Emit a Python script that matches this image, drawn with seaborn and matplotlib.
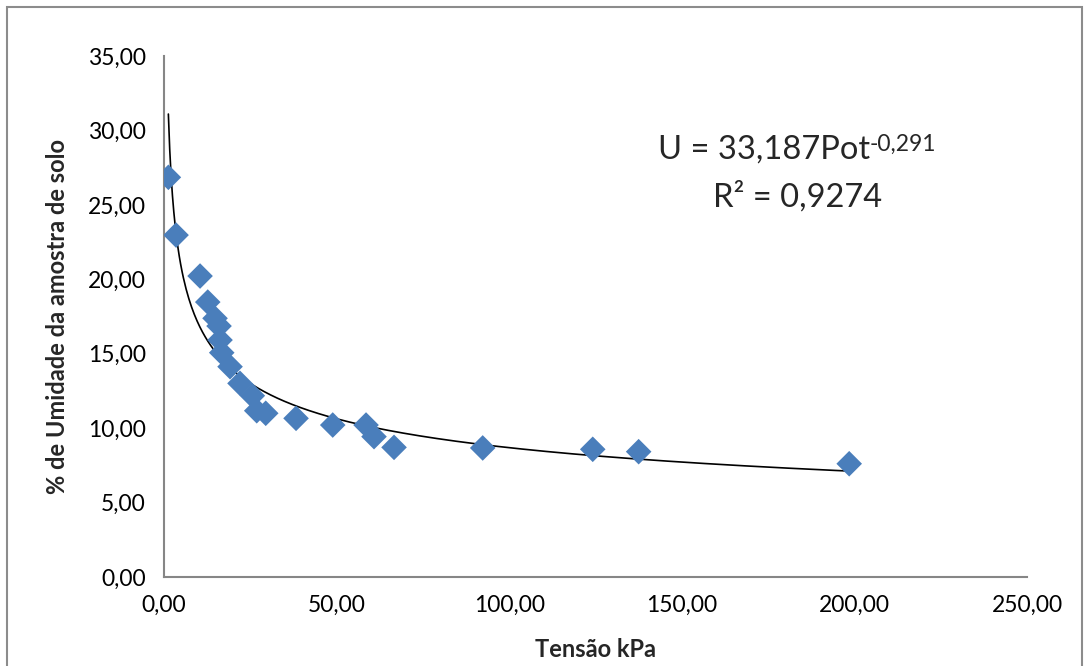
"""
Curva de retenção de umidade do solo - dispersão com linha de tendência potência
"""

import numpy as np
import pandas as pd
import matplotlib
matplotlib.use('Agg')
import matplotlib.pyplot as plt
from matplotlib.patches import Rectangle
from matplotlib.ticker import MultipleLocator, FuncFormatter
import seaborn as sns

sns.set_style('white')
plt.rcParams['font.family'] = ['Lato', 'DejaVu Sans']

# Dados
tensao = [1.25, 3.48, 10.43, 12.66, 14.77, 15.93, 16.22, 16.71, 19.12, 22.0,
          25.58, 26.85, 29.46, 38.24, 48.87, 58.52, 60.83, 66.63, 92.32,
          124.2, 137.5, 198.5]
umidade = [26.85, 22.97, 20.22, 18.47, 17.38, 16.86, 15.92, 15.07, 14.13, 13.01,
           12.18, 11.17, 11.0, 10.66, 10.21, 10.21, 9.43, 8.71, 8.67,
           8.58, 8.42, 7.61]

# Coeficientes da linha de tendência (U = a * Pot^b)
coef_a = 33.187
coef_b = -0.291
r2 = 0.9274

df = pd.DataFrame({'Tensão kPa': tensao, 'Umidade': umidade})

fig = plt.figure(figsize=(10.85, 6.66), dpi=100)
ax = fig.add_axes([0.1512, 0.1336, 0.7953, 0.7823])

sns.scatterplot(data=df, x='Tensão kPa', y='Umidade', ax=ax, marker='D', s=170,
                color='#4a7ebb', edgecolor='none', zorder=3)

x_fit = np.linspace(min(tensao), max(tensao), 500)
ax.plot(x_fit, coef_a * x_fit ** coef_b, color='black', linewidth=1.2, zorder=2)

ax.set_xlim(0, 250)
ax.set_ylim(0, 35)
ax.xaxis.set_major_locator(MultipleLocator(50))
ax.xaxis.set_minor_locator(MultipleLocator(10))
ax.yaxis.set_major_locator(MultipleLocator(5))
ax.yaxis.set_minor_locator(MultipleLocator(1))
fmt = FuncFormatter(lambda v, p: f'{v:.2f}'.replace('.', ','))
ax.xaxis.set_major_formatter(fmt)
ax.yaxis.set_major_formatter(fmt)

for side in ['top', 'right']:
    ax.spines[side].set_visible(False)
for side in ['left', 'bottom']:
    ax.spines[side].set_color('#868686')
    ax.spines[side].set_linewidth(1.5)

ax.tick_params(which='major', direction='inout', length=10, width=1.5,
               color='#868686', labelsize=16.5, labelcolor='black', pad=8)
ax.tick_params(which='minor', direction='in', length=5, width=1.2, color='#868686')

ax.set_xlabel('Tensão kPa', fontsize=17, fontweight='bold', labelpad=16)
ax.set_ylabel('% de Umidade da amostra de solo', fontsize=17, fontweight='bold', labelpad=14)

# equação da linha de tendência com expoente sobrescrito
a_txt = f'{coef_a}'.replace('.', ',')
b_txt = f'{coef_b}'.replace('.', ',')
eq = ax.text(0.818, 0.8196, f'U = {a_txt}Pot', transform=ax.transAxes,
             ha='right', va='center', fontsize=23.5)
ax.annotate(b_txt, xy=(1.0, 1.04), xycoords=eq, ha='left', va='top', fontsize=16.5)
ax.text(0.7347, 0.729, f'R² = {r2}'.replace('.', ','), transform=ax.transAxes,
        ha='center', va='center', fontsize=23.5)

# moldura externa do gráfico
fig.patches.append(Rectangle((7 / 1085, -0.05), 1075 / 1085, 1.05 - 7 / 666,
                             transform=fig.transFigure, fill=False,
                             edgecolor='#8c8c8c', linewidth=1.5))

plt.savefig('out.png', dpi=100)
plt.close()
